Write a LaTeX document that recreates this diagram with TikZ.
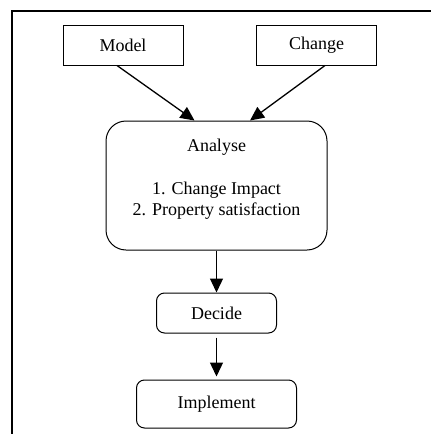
\documentclass[tikz,border=0pt]{standalone}
\usepackage{fontspec}
\setmainfont{Liberation Serif}
\usetikzlibrary{positioning, arrows.meta}

\begin{document}
\begin{tikzpicture}[x=1pt, y=1pt, node distance=90pt, on grid, line width=1pt,
    box/.style={draw, minimum width=120pt, minimum height=40pt, inner sep=0pt},
    step box/.style={box, rounded corners=8pt},
    flow/.style={-{Triangle[length=14pt, width=13pt]}, line width=1.3pt},
    font=\fontsize{18}{21}\selectfont]
    \useasboundingbox (0,0) rectangle (431,-434);
    \draw[line width=2.5pt] (12,-434) -- (12,-11) -- (431,-11);

    \node[box] (Mo) at (123,-45) {Model};
    \node[box] (Ch) [right=193.5pt of Mo] {Change};
    \node[box, rounded corners=20pt, minimum width=221pt, minimum height=129pt, align=center]
        (An) at (216.5,-185.5) {Analyse\\[22pt]1. Change Impact\\2. Property satisfaction\\[-4pt]\mbox{}};
    \node[step box] (De) [below=127.5pt of An] {Decide};
    \node[step box, minimum width=160pt, minimum height=48pt] (Im) [below=91pt of De] {Implement};

    \draw[flow] ([xshift=-6pt]Mo.south) -- ([xshift=-22pt]An.north);
    \draw[flow] ([xshift=8.5pt]Ch.south) -- ([xshift=33.5pt]An.north);
    \draw[flow] (An) -- (De);
    \draw[flow, shorten <=4pt, shorten >=3pt] (De) -- (Im);
\end{tikzpicture}
\end{document}
